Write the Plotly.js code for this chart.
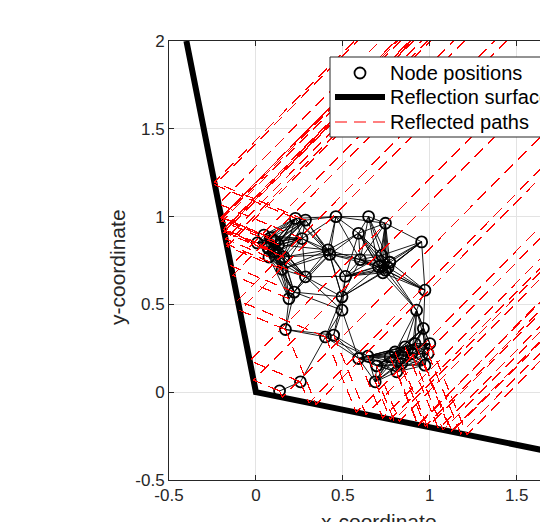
<!DOCTYPE html>
<html><head><meta charset="utf-8">
<script src="https://cdn.plot.ly/plotly-3.0.1.min.js"></script>
<style>html,body{margin:0;padding:0;overflow:hidden;background:#fff;width:540px;height:522px}#chart{width:619px;height:522px}
path.js-line[style*="255, 0, 0"]{shape-rendering:crispEdges}</style>
</head><body><div id="chart"></div>
<script>
// Node positions
const nodeX = [0.008,0.046,0.085,0.110,0.070,0.130,0.075,0.160,0.150,0.100,
  0.227,0.285,0.265,0.460,0.648,0.745,0.590,0.953,0.415,0.425,
  0.600,0.724,0.770,0.745,0.705,0.760,0.730,0.285,0.515,0.220,
  0.190,0.495,0.495,0.972,0.924,0.170,0.400,0.447,0.963,0.590,
  0.644,0.686,0.695,0.772,0.810,0.858,0.915,1.000,0.990,0.972,
  0.897,0.839,0.800,0.256,0.136];
const nodeY = [0.850,0.895,0.880,0.860,0.820,0.840,0.770,0.770,0.700,0.800,
  0.990,0.980,0.875,1.000,1.000,0.962,0.905,0.856,0.810,0.785,
  0.755,0.780,0.740,0.695,0.715,0.710,0.680,0.657,0.660,0.570,
  0.533,0.543,0.467,0.581,0.467,0.357,0.315,0.325,0.363,0.192,
  0.205,0.059,0.150,0.201,0.116,0.258,0.277,0.277,0.220,0.154,
  0.220,0.163,0.229,0.059,0.007];
// Reflection surface vertices
const wallX = [-0.4, 0, 2];
const wallY = [2, 0, -0.4];
// Model parameters of the original figure
const commRange = 0.3;          // nodes closer than this are linked
const outAngleDeg = 45;         // direction of all reflected rays
const maxIncident = 0.6;        // longest node-to-surface leg drawn
const rayLength = 4;
// Axis ticks and texts
const xTicks = [-0.5, 0, 0.5, 1, 1.5, 2];
const xTickText = ['-0.5', '0', '0.5', '1', '1.5', '2'];
const yTicks = [-0.5, 0, 0.5, 1, 1.5, 2];
const yTickText = ['-0.5', '0', '0.5', '1', '1.5', '2'];
const legendNames = ['Node positions', 'Reflection surface', 'Reflected paths'];
const xTitle = 'x-coordinate';
const yTitle = 'y-coordinate';

// Links between nodes
const ex = [], ey = [];
for (let i = 0; i < nodeX.length; i++) {
  for (let j = i + 1; j < nodeX.length; j++) {
    const d = Math.hypot(nodeX[i] - nodeX[j], nodeY[i] - nodeY[j]);
    if (d <= commRange) { ex.push(nodeX[i], nodeX[j], null); ey.push(nodeY[i], nodeY[j], null); }
  }
}
// Reflected paths
const ox = Math.cos(outAngleDeg * Math.PI / 180), oy = Math.sin(outAngleDeg * Math.PI / 180);
const rx = [], ry = [];
for (let k = 0; k < wallX.length - 1; k++) {
  const ax = wallX[k], ay = wallY[k];
  const bx = wallX[k + 1] - ax, by = wallY[k + 1] - ay;
  const L = Math.hypot(bx, by), wx = bx / L, wy = by / L;
  const dot = ox * wx + oy * wy;
  const dx = 2 * dot * wx - ox, dy = 2 * dot * wy - oy; // incident direction
  for (let i = 0; i < nodeX.length; i++) {
    const px = nodeX[i], py = nodeY[i];
    const den = dx * (-by) - dy * (-bx);
    if (Math.abs(den) < 1e-9) continue;
    const cx = ax - px, cy = ay - py;
    const t = (cx * (-by) - cy * (-bx)) / den;
    const s = (dx * cy - dy * cx) / den;
    if (t <= 0 || t > maxIncident || s < 0 || s > 1) continue;
    const hx = px + t * dx, hy = py + t * dy;
    rx.push(px, hx, hx + rayLength * ox, null);
    ry.push(py, hy, hy + rayLength * oy, null);
  }
}

const FONT = 'Liberation Sans, Arial, Helvetica, sans-serif';
const traces = [
  {x: ex, y: ey, mode: 'lines', line: {color: '#000', width: 0.9}, showlegend: false, hoverinfo: 'skip'},
  {x: nodeX, y: nodeY, mode: 'markers', name: legendNames[0], showlegend: false,
   marker: {symbol: 'circle-open', size: 11, color: '#000', line: {width: 1.8, color: '#000'}}},
  {x: wallX, y: wallY, mode: 'lines', name: legendNames[1], showlegend: false, line: {color: '#000', width: 6}},
  {x: rx, y: ry, mode: 'lines', name: legendNames[2], showlegend: false, line: {color: '#ff0000', width: 1.2, dash: '12px,7px'}}
];
// plot area in page pixels: left 169, top 41, width 419, height 439
const PX = p => (p - 169) / 419, PY = p => (480 - p) / 439;
const legendRows = [73, 97, 122];
const shapes = [
  {type: 'rect', xref: 'paper', yref: 'paper', x0: PX(330), x1: PX(620), y0: PY(137), y1: PY(57),
   line: {color: '#262626', width: 1}, fillcolor: '#fff', layer: 'above'},
  {type: 'circle', xref: 'paper', yref: 'paper', x0: PX(354.5), x1: PX(365.5), y0: PY(legendRows[0] + 5.5), y1: PY(legendRows[0] - 5.5),
   line: {color: '#000', width: 1.8}, layer: 'above'},
  {type: 'line', xref: 'paper', yref: 'paper', x0: PX(335), x1: PX(385), y0: PY(legendRows[1]), y1: PY(legendRows[1]),
   line: {color: '#000', width: 6}, layer: 'above'},
  {type: 'line', xref: 'paper', yref: 'paper', x0: PX(335), x1: PX(385), y0: PY(legendRows[2]), y1: PY(legendRows[2]),
   line: {color: '#ff0000', width: 1.2, dash: '12px,7px'}, layer: 'above'}
];
const annotations = legendNames.map((n, i) => ({
  text: n, xref: 'paper', yref: 'paper', x: PX(388), y: PY(legendRows[i]), xanchor: 'left', yanchor: 'middle',
  showarrow: false, font: {family: FONT, size: 20, color: '#000'}
}));
annotations.push({text: xTitle, xref: 'paper', yref: 'paper', x: PX(379), y: PY(521), xanchor: 'center', yanchor: 'middle',
  showarrow: false, font: {family: FONT, size: 21, color: '#262626'}});
annotations.push({text: yTitle, xref: 'paper', yref: 'paper', x: PX(117), y: PY(267), xanchor: 'center', yanchor: 'middle',
  textangle: -90, showarrow: false, font: {family: FONT, size: 21, color: '#262626'}});

const axisCommon = {
  showline: true, mirror: 'ticks', linecolor: '#262626', linewidth: 1,
  ticks: 'inside', ticklen: 5, tickcolor: '#262626', tickwidth: 1,
  showgrid: true, gridcolor: '#e3e3e3', gridwidth: 1, zeroline: false,
  tickfont: {family: FONT, size: 17, color: '#262626'}, tickmode: 'array'
};
const layout = {
  width: 619, height: 522,
  margin: {l: 169, r: 31, t: 41, b: 42},
  paper_bgcolor: '#fff', plot_bgcolor: '#fff',
  xaxis: Object.assign({}, axisCommon, {range: [-0.5, 1.91], tickvals: xTicks, ticktext: xTickText}),
  yaxis: Object.assign({}, axisCommon, {range: [-0.5, 2], tickvals: yTicks, ticktext: yTickText}),
  shapes: shapes, annotations: annotations, showlegend: false
};
Plotly.newPlot('chart', traces, layout, {staticPlot: true, displayModeBar: false});
</script></body></html>
